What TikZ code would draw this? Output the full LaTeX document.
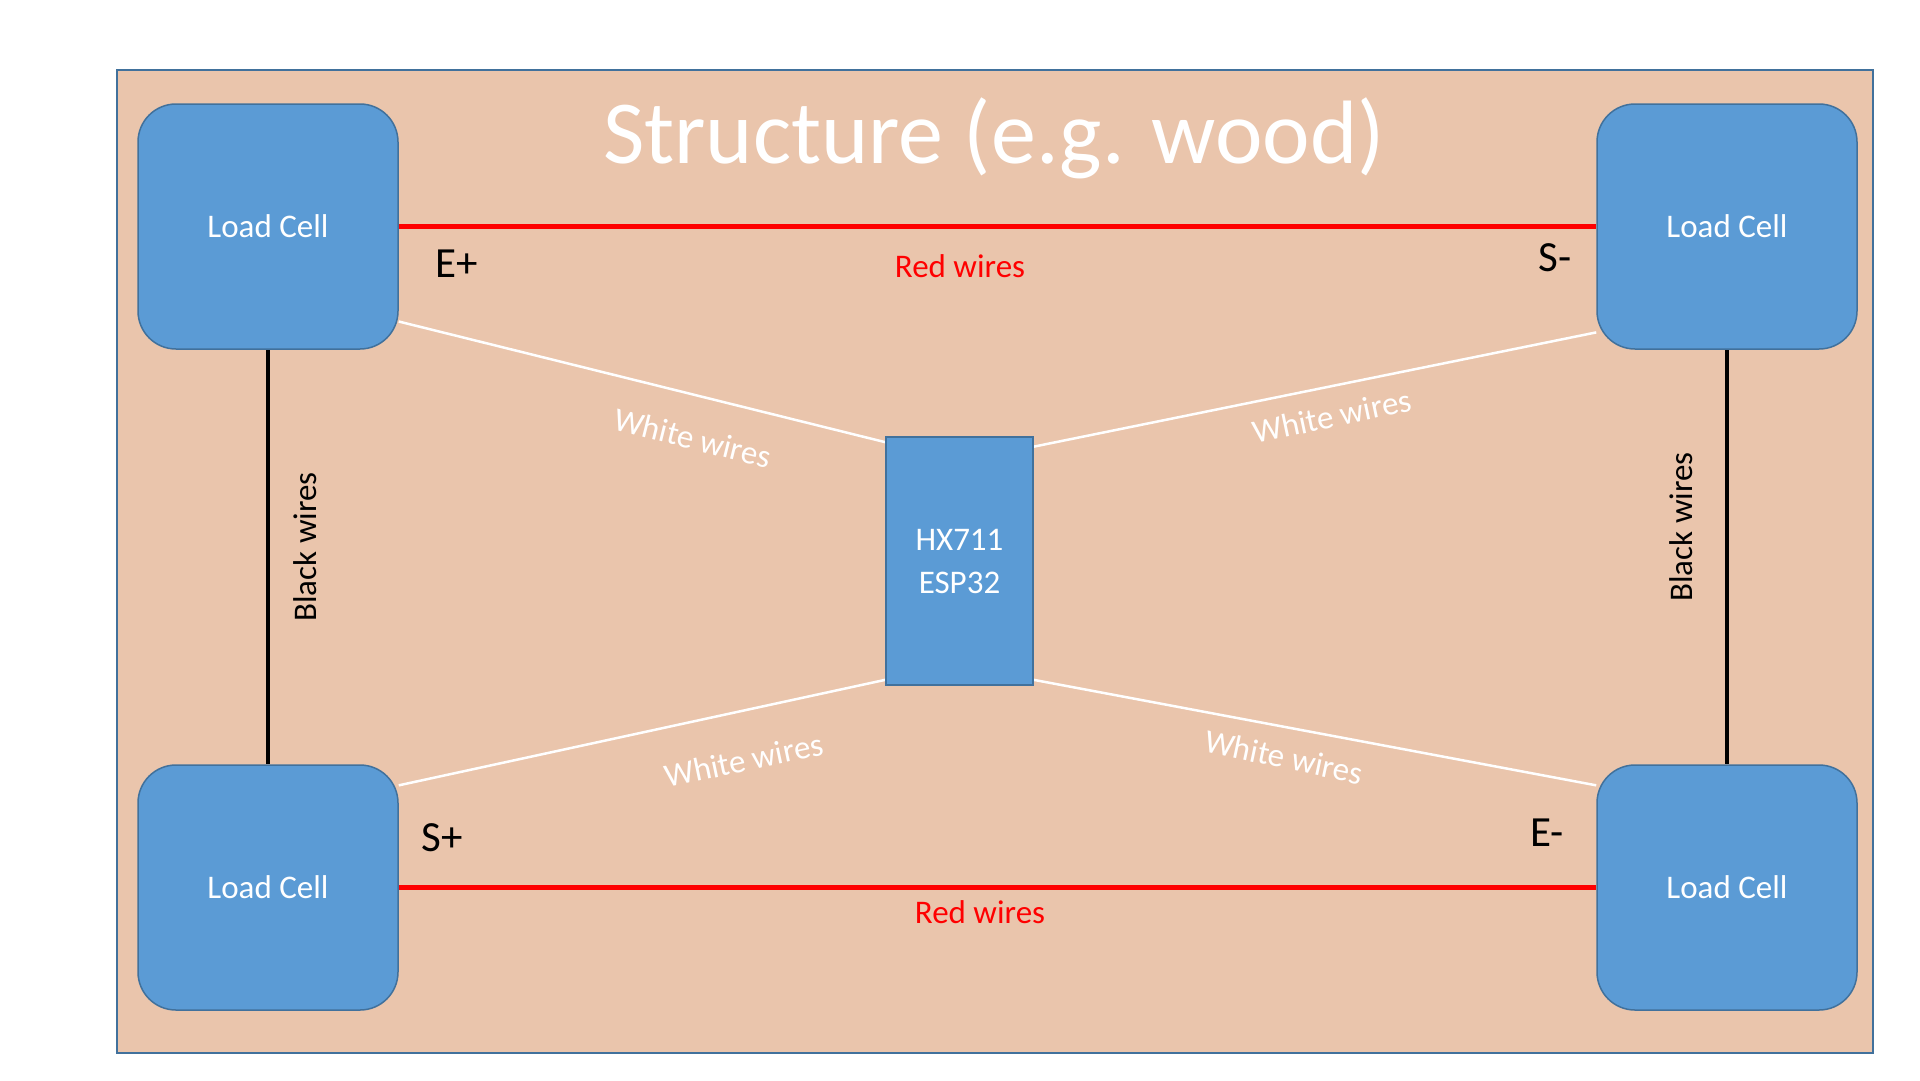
\documentclass[tikz,border=0pt]{standalone}
\usepackage{fontspec}
\setmainfont{Carlito}
\usetikzlibrary{backgrounds}
\definecolor{mblue}{HTML}{5B9BD5}
\definecolor{medge}{HTML}{41719C}
\definecolor{mwood}{HTML}{EAC5AC}
\tikzset{cell/.style = {draw=medge, fill=mblue, line width=1.5pt, rounded corners=38pt,
                        minimum width=260pt, minimum height=245pt, inner sep=0,
                        text=white, font=\fontsize{33}{40}\selectfont}}
\tikzset{hub/.style = {draw=medge, fill=mblue, line width=1.5pt,
                       minimum width=147pt, minimum height=248pt, inner sep=0,
                       text=white, align=center, font=\fontsize{33}{43}\selectfont}}
\tikzset{redwire/.style = {draw=red, line width=5pt}}
\tikzset{blackwire/.style = {draw=black, line width=4.5pt}}
\tikzset{whitewire/.style = {draw=white, line width=2.5pt}}
\tikzset{wirelabel/.style = {inner sep=0, font=\fontsize{33}{40}\selectfont}}
\tikzset{pinlabel/.style = {inner sep=0, font=\fontsize{43}{50}\selectfont}}

\begin{document}
\begin{tikzpicture}[x=1pt, y=-1pt]
  \useasboundingbox (0,0) rectangle (1920,1080);
  \begin{scope}[on background layer]
    \node[draw=medge, fill=mwood, line width=1.5pt, minimum width=1756pt, minimum height=983pt,
          inner sep=0] (board) at (995,561.5) {};
  \end{scope}
  \node[text=white, inner sep=0, font=\fontsize{90}{100}\selectfont] (title) at (994,138) {Structure (e.g. wood)};
  \node[cell] (cellTL) at (268,226.5) {Load Cell};
  \node[cell] (cellTR) at (1727,226.5) {Load Cell};
  \node[cell] (cellBL) at (268,887.5) {Load Cell};
  \node[cell] (cellBR) at (1727,887.5) {Load Cell};
  \node[hub] (hub) at (959.5,561) {HX711\\ESP32};
  \begin{scope}[on background layer]
    \draw[redwire] (cellTL.east) -- (cellTR.west);
    \draw[redwire] (cellBL.east) -- (cellBR.west);
    \draw[blackwire] (cellTL.south) -- (cellBL.north);
    \draw[blackwire] (cellTR.south) -- (cellBR.north);
    \draw[whitewire] (cellTL.-36.6) -- (hub.122.1);
    \draw[whitewire] (cellTR.219.7) -- (hub.57.6);
    \draw[whitewire] (cellBL.38.4) -- (hub.238.3);
    \draw[whitewire] (cellBR.142.1) -- (hub.-58.1);
  \end{scope}
  \node[wirelabel, text=red] (redtop) at (960,266) {Red wires};
  \node[wirelabel, text=red] (redbottom) at (980,912) {Red wires};
  \node[wirelabel, rotate=90] (blackleft) at (305,547) {Black wires};
  \node[wirelabel, rotate=90] (blackright) at (1681,527) {Black wires};
  \node[wirelabel, text=white, rotate=-14] (whiteTL) at (693,438) {White wires};
  \node[wirelabel, text=white, rotate=12] (whiteTR) at (1332,416) {White wires};
  \node[wirelabel, text=white, rotate=12] (whiteBL) at (744,760) {White wires};
  \node[wirelabel, text=white, rotate=-12] (whiteBR) at (1284,757) {White wires};
  \node[pinlabel] (eplus) at (457,264) {E+};
  \node[pinlabel] (sminus) at (1555,258) {S-};
  \node[pinlabel] (splus) at (442,838) {S+};
  \node[pinlabel] (eminus) at (1547,833) {E-};
\end{tikzpicture}
\end{document}
